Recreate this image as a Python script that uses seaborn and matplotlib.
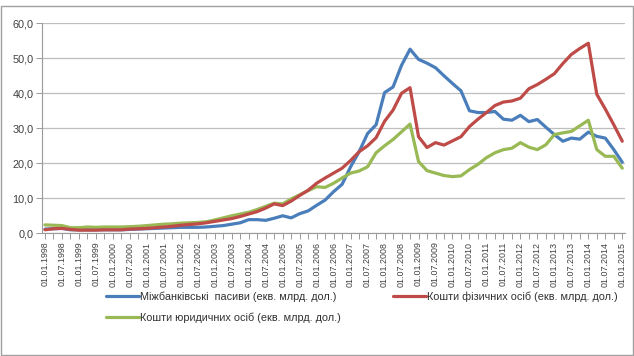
import numpy as np
import pandas as pd
import matplotlib
matplotlib.use("Agg")
import matplotlib.pyplot as plt
from matplotlib.ticker import FuncFormatter, MultipleLocator
from matplotlib.patches import Rectangle
import seaborn as sns

# ---------------- data (quarterly, 01.01.1998 .. 01.01.2015) ----------------
interbank = [1.2, 1.3, 1.4, 1.0, 1.0, 1.0, 1.0, 1.0, 1.0, 1.0, 1.1, 1.2, 1.3, 1.4, 1.5, 1.6,
             1.7, 1.7, 1.7, 1.8, 2.0, 2.2, 2.6, 3.0, 3.9, 3.9, 3.7, 4.3, 5.0, 4.4, 5.6, 6.4,
             8.0, 9.5, 11.9, 14.0, 19.0, 23.3, 28.5, 31.0, 40.2, 41.8, 48.0, 52.6, 49.7, 48.6,
             47.3, 45.0, 42.8, 40.7, 35.0, 34.5, 34.5, 34.8, 32.6, 32.3, 33.7, 31.9, 32.5,
             30.3, 28.2, 26.3, 27.2, 26.9, 28.9, 27.7, 27.2, 23.9, 20.3]
households = [1.0, 1.3, 1.4, 1.1, 0.9, 0.9, 0.9, 1.0, 1.0, 1.0, 1.2, 1.3, 1.4, 1.6, 1.8, 2.0,
              2.3, 2.5, 2.7, 3.0, 3.4, 3.8, 4.2, 4.8, 5.5, 6.2, 7.2, 8.4, 7.9, 9.2, 10.8, 12.3,
              14.3, 15.8, 17.2, 18.6, 20.8, 23.3, 25.0, 27.3, 32.0, 35.2, 40.0, 41.6, 27.6, 24.5,
              25.9, 25.2, 26.4, 27.6, 30.5, 32.6, 34.5, 36.5, 37.5, 37.8, 38.6, 41.3, 42.5,
              44.0, 45.6, 48.5, 51.1, 52.8, 54.3, 39.7, 35.5, 31.0, 26.3]
corporates = [2.4, 2.3, 2.2, 1.6, 1.6, 1.8, 1.7, 1.8, 1.8, 1.8, 1.9, 2.0, 2.2, 2.4, 2.6, 2.7,
              2.9, 3.0, 3.1, 3.3, 3.8, 4.4, 5.0, 5.5, 6.0, 6.8, 7.7, 8.6, 8.4, 9.8, 11.0, 12.2,
              13.3, 13.1, 14.3, 15.8, 17.2, 17.8, 19.0, 23.0, 25.0, 26.8, 29.0, 31.2, 20.5, 17.9,
              17.2, 16.5, 16.2, 16.4, 18.2, 19.7, 21.6, 23.0, 23.9, 24.3, 25.9, 24.6, 23.9,
              25.3, 28.2, 28.7, 29.1, 30.7, 32.3, 23.9, 22.0, 22.0, 18.6]

years = list(range(1998, 2016))
tick_labels = []
for y in years:
    tick_labels.append(f"01.01.{y}")
    if y < 2015:
        tick_labels.append(f"01.07.{y}")

names = ["Міжбанківські  пасиви (екв. млрд. дол.)",
         "Кошти фізичних осіб (екв. млрд. дол.)",
         "Кошти юридичних осіб (екв. млрд. дол.)"]
colors = {names[0]: "#4A7EBB", names[1]: "#BE4B48", names[2]: "#98B954"}

n = len(interbank)
df = pd.concat([
    pd.DataFrame({"q": np.arange(n), "value": interbank, "series": names[0]}),
    pd.DataFrame({"q": np.arange(n), "value": households, "series": names[1]}),
    pd.DataFrame({"q": np.arange(n), "value": corporates, "series": names[2]}),
])

# ---------------- figure ----------------
sns.set_theme(style="white")
plt.rcParams["font.family"] = ["Liberation Sans", "DejaVu Sans"]

fig = plt.figure(figsize=(6.34, 3.56), dpi=100)
ax = fig.add_axes([0.0656, 0.3447, 0.9206, 0.5899])

sns.lineplot(data=df, x="q", y="value", hue="series",
             hue_order=[names[0], names[2], names[1]],
             palette=colors, linewidth=2.3, ax=ax)

ax.set_xlim(-0.4, n - 1 + 0.35)
ax.set_ylim(0, 60)
ax.yaxis.set_major_locator(MultipleLocator(10))
ax.yaxis.set_major_formatter(FuncFormatter(lambda v, p: f"{v:.1f}".replace(".", ",")))
ax.grid(axis="y", color="#BEBEBE", linewidth=0.9)
ax.grid(axis="x", visible=False)
ax.set_axisbelow(True)

ax.set_xticks(np.arange(0, n, 2))
ax.set_xticklabels(tick_labels, rotation=90, fontsize=6.4, color="#404040")
ax.set_xticks(np.arange(0, n, 1), minor=True)
ax.tick_params(axis="x", which="both", bottom=True, length=4, width=0.7,
               color="#9A9A9A", pad=2)
ax.tick_params(axis="y", left=True, length=4, width=0.7, color="#9A9A9A",
               labelsize=7.8, labelcolor="#404040", pad=2)
ax.set_xlabel("")
ax.set_ylabel("")
for side in ["top", "right"]:
    ax.spines[side].set_visible(False)
for side in ["left", "bottom"]:
    ax.spines[side].set_color("#9A9A9A")
    ax.spines[side].set_linewidth(0.8)

sns.move_legend(ax, "upper left", bbox_to_anchor=(0.094, -0.23), ncol=2,
                frameon=False, title=None, fontsize=7.8, handlelength=3.0,
                columnspacing=4.8, labelspacing=1.0, handletextpad=0.15,
                labelcolor="#303030")

fig.patches.append(Rectangle((0.002, 0.003), 0.996, 0.98, transform=fig.transFigure,
                             fill=False, edgecolor="#A0A0A0", linewidth=1.0))

fig.savefig("out.png", dpi=100)
